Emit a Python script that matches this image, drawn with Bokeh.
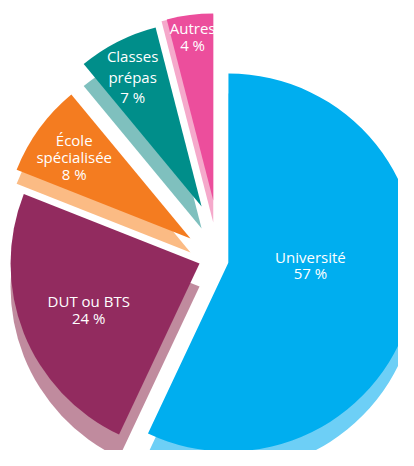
import math
from bokeh.plotting import figure
from bokeh.models import Range1d, ColumnDataSource
from bokeh.core.properties import value
from bokeh.embed import file_html
from bokeh.resources import INLINE

# ---- data ----
categories = ["Université", "DUT ou BTS", "École spécialisée", "Classes prépas", "Autres"]
shares = [57, 24, 8, 7, 4]
wrapped = {"École spécialisée", "Classes prépas"}

# ---- style ----
main_colors = ["#00AEEF", "#922B5F", "#F47C20", "#008E8A", "#EC4E9C"]
side_colors = ["#6DCFF6", "#C08B9E", "#FBBB84", "#7FC0BE", "#F5A9CB"]
explode = [12.6, 17.7, 32.8, 54.0, 58.0]
explode_turn = [-6, -5, -1.6, -11, -4]
radius = [189, 189, 187, 185, 187]
depth = [20, 23, 14, 22, 22]
side_grow = [0, 0, 0, 0, 21]
label_r = [82, 120, 142, 147, 165]
label_turn = [11, 1, 1, 1, 0]
line_gap = [16.5, 17, 17, 20.5, 17]
W, H = 398, 450
PAGE_H = 466
cx, cy = 216, PAGE_H - 258

p = figure(width=W, height=H, output_backend="svg", toolbar_location=None,
           x_range=Range1d(0, W), y_range=Range1d(PAGE_H - H, PAGE_H),
           x_axis_type=None, y_axis_type=None, min_border=0,
           background_fill_color="white", border_fill_color="white")
p.outline_line_color = None
p.grid.visible = False

total = sum(shares)
acc = 0
ax, ay, a0s, a1s, mids = [], [], [], [], []
for v, e, t in zip(shares, explode, explode_turn):
    a_start = 90 - 360 * acc / total
    acc += v
    a_end = 90 - 360 * acc / total
    mid = (a_start + a_end) / 2
    ax.append(cx + e * math.cos(math.radians(mid + t)))
    ay.append(cy + e * math.sin(math.radians(mid + t)))
    a0s.append(a_end)
    a1s.append(a_start)
    mids.append(mid)

side = ColumnDataSource(dict(x=ax, y=[y - d for y, d in zip(ay, depth)],
                             r=[r + g for r, g in zip(radius, side_grow)],
                             s=a0s, e=a1s, c=side_colors))
top = ColumnDataSource(dict(x=ax, y=ay, r=radius, s=a0s, e=a1s, c=main_colors))
for src in (side, top):
    p.wedge(x="x", y="y", radius="r", start_angle="s", end_angle="e",
            start_angle_units="deg", end_angle_units="deg",
            fill_color="c", line_color=None, source=src)

tx, ty, tt = [], [], []
for i, (name, v) in enumerate(zip(categories, shares)):
    ang = math.radians(mids[i] + label_turn[i])
    lx = ax[i] + label_r[i] * math.cos(ang)
    ly = ay[i] + label_r[i] * math.sin(ang)
    lines = (name.split(" ") if name in wrapped else [name]) + [f"{v} %"]
    n = len(lines)
    for k, t in enumerate(lines):
        tx.append(lx)
        ty.append(ly + ((n - 1) / 2 - k) * line_gap[i])
        tt.append(t)

p.text(x=tx, y=ty, text=tt, text_color="white", text_align="center",
       text_baseline="middle", text_font=value("Open Sans"), text_font_size="15px")

open("out.html", "w").write(file_html(p, INLINE))
